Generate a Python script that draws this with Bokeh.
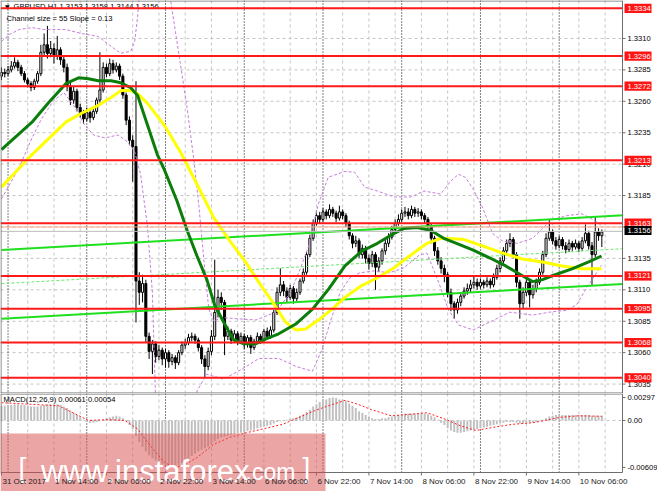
from bokeh.plotting import figure
from bokeh.layouts import column
from bokeh.models import Range1d, ColumnDataSource
from bokeh.core.properties import value
from bokeh.embed import file_html
from bokeh.resources import INLINE

# ---------------- data ----------------
symbol = "GBPUSD,H1"
first_open = 1.3280
closes = [
    1.3283, 1.3282, 1.3285, 1.3288, 1.3291, 1.3287, 1.3282, 1.3277, 1.3274, 1.3271,
    1.3276, 1.3282, 1.3299, 1.3305, 1.3298, 1.3302, 1.3296, 1.3301, 1.3293, 1.3287,
    1.3272, 1.3261, 1.3268, 1.3255, 1.3251, 1.3246, 1.3251, 1.3247, 1.3252, 1.3261,
    1.3269, 1.3287, 1.3282, 1.3290, 1.3285, 1.3288, 1.3280, 1.3265, 1.3245, 1.3229,
    1.3224, 1.3117, 1.3108, 1.3115, 1.3073, 1.3061, 1.3067, 1.3057, 1.3062, 1.3055,
    1.3060, 1.3053, 1.3056, 1.3052, 1.3060, 1.3066, 1.3068, 1.3072, 1.3073, 1.3070,
    1.3064, 1.3055, 1.3049, 1.3061, 1.3073, 1.3092, 1.3104, 1.3100, 1.3073, 1.3077,
    1.3070, 1.3075, 1.3069, 1.3073, 1.3067, 1.3072, 1.3064, 1.3069, 1.3073, 1.3070,
    1.3077, 1.3073, 1.3078, 1.3092, 1.3108, 1.3114, 1.3109, 1.3104, 1.3111, 1.3103,
    1.3108, 1.3117, 1.3124, 1.3138, 1.3151, 1.3163, 1.3169, 1.3166, 1.3172, 1.3169,
    1.3174, 1.3171, 1.3167, 1.3172, 1.3169, 1.3163, 1.3153, 1.3147, 1.3149, 1.3138,
    1.3143, 1.3135, 1.3131, 1.3138, 1.3128, 1.3133, 1.3141, 1.3147, 1.3152, 1.3158,
    1.3163, 1.3166, 1.3171, 1.3172, 1.3169, 1.3174, 1.3171, 1.3172, 1.3169, 1.3166,
    1.3161, 1.3151, 1.3141, 1.3133, 1.3127, 1.3122, 1.3108, 1.3099, 1.3094, 1.3100,
    1.3105, 1.3109, 1.3111, 1.3114, 1.3116, 1.3113, 1.3116, 1.3114, 1.3117, 1.3114,
    1.3120, 1.3127, 1.3133, 1.3141, 1.3147, 1.3150, 1.3138, 1.3116, 1.3099, 1.3108,
    1.3116, 1.3106, 1.3111, 1.3116, 1.3124, 1.3138, 1.3151, 1.3156, 1.3149, 1.3145,
    1.3150, 1.3145, 1.3142, 1.3147, 1.3144, 1.3147, 1.3143, 1.3149, 1.3155, 1.3145,
    1.3138, 1.3156, 1.3153, 1.3156,
]
highs = [
    1.3287, 1.3286, 1.3288, 1.3292, 1.3295, 1.3293, 1.3289, 1.3284, 1.3279, 1.3276,
    1.3278, 1.3284, 1.3305, 1.3314, 1.3320, 1.3308, 1.3306, 1.3312, 1.3303, 1.3296,
    1.3290, 1.3275, 1.3272, 1.3270, 1.3258, 1.3253, 1.3255, 1.3254, 1.3255, 1.3263,
    1.3299, 1.3291, 1.3290, 1.3294, 1.3293, 1.3291, 1.3290, 1.3282, 1.3267, 1.3248,
    1.3233, 1.3276, 1.3124, 1.3122, 1.3118, 1.3076, 1.3070, 1.3069, 1.3066, 1.3064,
    1.3063, 1.3062, 1.3059, 1.3058, 1.3062, 1.3069, 1.3071, 1.3075, 1.3076, 1.3075,
    1.3072, 1.3066, 1.3058, 1.3064, 1.3078, 1.3134, 1.3110, 1.3108, 1.3102, 1.3081,
    1.3079, 1.3078, 1.3077, 1.3076, 1.3075, 1.3074, 1.3074, 1.3071, 1.3076, 1.3075,
    1.3079, 1.3080, 1.3081, 1.3094, 1.3112, 1.3127, 1.3117, 1.3112, 1.3114, 1.3113,
    1.3111, 1.3119, 1.3127, 1.3140, 1.3154, 1.3166, 1.3173, 1.3172, 1.3175, 1.3174,
    1.3178, 1.3176, 1.3173, 1.3177, 1.3174, 1.3171, 1.3165, 1.3155, 1.3153, 1.3151,
    1.3146, 1.3145, 1.3138, 1.3141, 1.3140, 1.3136, 1.3143, 1.3150, 1.3155, 1.3161,
    1.3166, 1.3170, 1.3174, 1.3176, 1.3175, 1.3177, 1.3176, 1.3175, 1.3174, 1.3171,
    1.3168, 1.3163, 1.3153, 1.3144, 1.3136, 1.3130, 1.3124, 1.3111, 1.3101, 1.3103,
    1.3108, 1.3112, 1.3115, 1.3118, 1.3121, 1.3119, 1.3119, 1.3118, 1.3120, 1.3119,
    1.3123, 1.3130, 1.3136, 1.3144, 1.3150, 1.3155, 1.3152, 1.3140, 1.3118, 1.3112,
    1.3120, 1.3118, 1.3114, 1.3119, 1.3127, 1.3141, 1.3155, 1.3166, 1.3158, 1.3152,
    1.3153, 1.3152, 1.3148, 1.3150, 1.3149, 1.3150, 1.3149, 1.3152, 1.3162, 1.3157,
    1.3148, 1.3168, 1.3159, 1.3158,
]
lows = [
    1.3277, 1.3279, 1.3280, 1.3283, 1.3286, 1.3284, 1.3280, 1.3275, 1.3271, 1.3268,
    1.3269, 1.3274, 1.3280, 1.3296, 1.3294, 1.3295, 1.3290, 1.3293, 1.3289, 1.3283,
    1.3268, 1.3257, 1.3258, 1.3252, 1.3247, 1.3242, 1.3244, 1.3243, 1.3245, 1.3250,
    1.3259, 1.3267, 1.3279, 1.3280, 1.3282, 1.3283, 1.3277, 1.3262, 1.3241, 1.3225,
    1.3196, 1.3084, 1.3098, 1.3100, 1.3068, 1.3055, 1.3043, 1.3052, 1.3054, 1.3050,
    1.3048, 1.3048, 1.3050, 1.3047, 1.3050, 1.3058, 1.3063, 1.3066, 1.3069, 1.3067,
    1.3061, 1.3051, 1.3040, 1.3046, 1.3058, 1.3070, 1.3088, 1.3094, 1.3058, 1.3070,
    1.3067, 1.3068, 1.3066, 1.3067, 1.3063, 1.3064, 1.3059, 1.3062, 1.3067, 1.3067,
    1.3068, 1.3071, 1.3071, 1.3076, 1.3090, 1.3105, 1.3105, 1.3100, 1.3102, 1.3099,
    1.3101, 1.3106, 1.3115, 1.3122, 1.3136, 1.3149, 1.3161, 1.3163, 1.3164, 1.3166,
    1.3167, 1.3168, 1.3164, 1.3165, 1.3166, 1.3160, 1.3150, 1.3143, 1.3144, 1.3135,
    1.3135, 1.3131, 1.3126, 1.3128, 1.3110, 1.3124, 1.3130, 1.3138, 1.3144, 1.3150,
    1.3156, 1.3161, 1.3164, 1.3168, 1.3166, 1.3167, 1.3168, 1.3168, 1.3166, 1.3163,
    1.3157, 1.3147, 1.3137, 1.3130, 1.3123, 1.3116, 1.3104, 1.3093, 1.3087, 1.3091,
    1.3097, 1.3103, 1.3106, 1.3108, 1.3111, 1.3110, 1.3111, 1.3111, 1.3112, 1.3111,
    1.3112, 1.3118, 1.3124, 1.3131, 1.3139, 1.3144, 1.3135, 1.3112, 1.3087, 1.3095,
    1.3105, 1.3096, 1.3103, 1.3108, 1.3114, 1.3122, 1.3136, 1.3149, 1.3146, 1.3142,
    1.3143, 1.3142, 1.3139, 1.3140, 1.3141, 1.3142, 1.3140, 1.3141, 1.3147, 1.3142,
    1.3113, 1.3136, 1.3149, 1.3144,
]

# moving averages (bar position, price)
green_x = [0, 9.3, 14.4, 19.6, 23.5, 26.5, 29.5, 33.4, 36.4, 39.4,
           41.5, 44.5, 47.5, 49.6, 53.5, 56.6, 59.6, 62.6, 65.0, 67.7,
           70.7, 73.7, 77.6, 80.6, 84.5, 89.7, 94.8, 99.6, 104.7, 109.8,
           114.6, 119.7, 122.7, 126.7, 130.9, 134.8, 138.7, 143.8, 148.9, 153.7,
           158.8, 161.9, 164.9, 167.9, 173.9, 179.0, 182.9]
green_v = [1.32215, 1.32434, 1.32591, 1.32740, 1.32787, 1.32779, 1.32763, 1.32763, 1.32747, 1.32708,
           1.32646, 1.32411, 1.32176, 1.32058, 1.31807, 1.31572, 1.31369, 1.31181, 1.30977, 1.30844,
           1.30703, 1.30671, 1.30671, 1.30710, 1.30750, 1.30828, 1.30946, 1.31102, 1.31290, 1.31408,
           1.31470, 1.31549, 1.31588, 1.31596, 1.31572, 1.31510, 1.31470, 1.31416, 1.31353, 1.31290,
           1.31212, 1.31165, 1.31181, 1.31212, 1.31267, 1.31322, 1.31369]
yellow_x = [0, 9.3, 19.6, 24.4, 29.5, 33.4, 36.4, 39.4, 41.5, 44.5,
            49.6, 54.5, 59.6, 64.7, 69.5, 74.6, 78.5, 82.7, 86.6, 89.7,
            92.7, 96.6, 100.8, 104.7, 109.8, 114.6, 119.7, 122.7, 129.7, 133.9,
            140.8, 146.8, 152.8, 158.8, 164.9, 170.9, 176.9, 182.9]
yellow_v = [1.31917, 1.32176, 1.32434, 1.32505, 1.32567, 1.32630, 1.32685, 1.32685, 1.32661, 1.32583,
            1.32411, 1.32199, 1.31940, 1.31674, 1.31494, 1.31314, 1.31157, 1.31000, 1.30844, 1.30781,
            1.30789, 1.30859, 1.30946, 1.31040, 1.31134, 1.31196, 1.31275, 1.31337, 1.31470, 1.31510,
            1.31502, 1.31447, 1.31392, 1.31345, 1.31322, 1.31290, 1.31267, 1.31267]
# band lines (dashed violet)
upper_x = [0, 2.4, 5.4, 9.3, 12.9, 19.6, 24.4, 29.5, 33.4, 36.4,
           39.4, 40.6, 41.5, 42.4, 43.6, 50.5, 51.4, 54.5, 56.6, 58.7,
           60.2, 61.7, 63.2, 64.7, 67.1, 71.6, 77.6, 83.6, 88.1, 91.2,
           93.6, 96.6, 99.6, 104.7, 107.7, 110.7, 114.6, 119.7, 124.8, 128.8,
           133.9, 136.9, 139.3, 141.4, 143.8, 146.8, 149.7, 152.8, 157.3, 161.9,
           164.9, 167.9, 172.4, 176.9, 181.4, 182.9]
upper_v = [1.33076, 1.33131, 1.33171, 1.33186, 1.33171, 1.33171, 1.33139, 1.33116, 1.33037, 1.32982,
           1.32998, 1.33076, 1.33272, 1.33586, 1.34056, 1.34056, 1.33429, 1.32904, 1.32544, 1.32121,
           1.31760, 1.31337, 1.30945, 1.30850, 1.30880, 1.30870, 1.30860, 1.30922, 1.31079, 1.31275,
           1.31447, 1.31784, 1.31995, 1.32042, 1.32035, 1.31917, 1.31886, 1.31839, 1.31839, 1.31886,
           1.31862, 1.31964, 1.32019, 1.31995, 1.31901, 1.31745, 1.31549, 1.31486, 1.31470, 1.31510,
           1.31588, 1.31658, 1.31690, 1.31705, 1.31643, 1.31611]
lower_x = [0, 5.4, 9.3, 12.3, 15.9, 19.0, 22.0, 25.0, 28.0, 31.6,
           35.5, 38.5, 40.6, 42.4, 44.5, 46.0, 46.9, 48.1, 58.1, 59.6,
           62.6, 67.7, 73.7, 78.5, 84.5, 89.7, 94.8, 97.8, 100.2, 103.2,
           106.2, 109.2, 113.7, 118.2, 122.7, 127.3, 129.7, 133.3, 136.3, 139.3,
           143.8, 148.9, 154.9, 161.9, 167.0, 172.4, 175.4, 178.4, 180.8, 182.9]
lower_v = [1.31823, 1.32074, 1.32309, 1.32465, 1.32606, 1.32669, 1.32567, 1.32426, 1.32332, 1.32309,
           1.32332, 1.32277, 1.32199, 1.32019, 1.31604, 1.31079, 1.30295, 1.29669, 1.29669, 1.30295,
           1.30428, 1.30389, 1.30475, 1.30554, 1.30554, 1.30491, 1.30452, 1.30632, 1.30844, 1.31079,
           1.31196, 1.31235, 1.31251, 1.31235, 1.31275, 1.31376, 1.31392, 1.31157, 1.30938, 1.30820,
           1.30781, 1.30844, 1.30922, 1.30899, 1.30922, 1.30938, 1.30985, 1.31118, 1.31212, 1.31298]
# regression channel (end points)
channel_x = [0, 189.5]
channel_upper = [1.31416, 1.31693]
channel_mid = [1.31149, 1.31427]
channel_lower = [1.30870, 1.31147]
channel_text = "Channel size = 55 Slope = 0.13"

levels = [1.3334, 1.3296, 1.3272, 1.3213, 1.3163, 1.3121, 1.3095, 1.3068, 1.3040]
price_ticks = [1.3035, 1.3060, 1.3085, 1.3110, 1.3135, 1.3160,
               1.3185, 1.3210, 1.3235, 1.3260, 1.3285, 1.3310]
bid = 1.3156
ask = 1.3160

macd_hist = [
    0.0019, 0.0019, 0.0020, 0.0020, 0.0021, 0.0021, 0.0020, 0.0020, 0.0019, 0.0018,
    0.0018, 0.0018, 0.0019, 0.0020, 0.0021, 0.0021, 0.0021, 0.0021,
    0.0020, 0.0018, 0.0016, 0.0013, 0.0010, 0.0007, 0.0004,
    0.0001, -0.0002, -0.0003, -0.0003, -0.0002, -0.0001, 0.0001,
    0.0003, 0.0004, 0.0005, 0.0006, 0.0005, 0.0003,
    -0.0001, -0.0006, -0.0011,
    -0.0020,
    -0.0028, -0.0034, -0.0040, -0.0045, -0.0049, -0.0052, -0.0055, -0.0057, -0.0059, -0.0060, -0.00609,
    -0.0060, -0.0058, -0.0055, -0.0052, -0.0049, -0.0046, -0.0043, -0.0040, -0.0038, -0.0036, -0.0034, -0.0031, -0.0027,
    -0.0024, -0.0022, -0.0021, -0.0020, -0.0019, -0.0018, -0.0017, -0.0016, -0.0015, -0.0014, -0.0013, -0.0012, -0.0010, -0.0009,
    -0.0008, -0.0007, -0.0006, -0.0004, -0.0002, -0.0001, 0.0000,
    0.0001, 0.0002, 0.0003, 0.0004, 0.0006, 0.0008, 0.0011, 0.0014, 0.0018, 0.0021, 0.0024, 0.0026,
    0.0027, 0.0029, 0.00297, 0.0029, 0.0027, 0.0027, 0.0025,
    0.0022, 0.0019, 0.0016, 0.0012, 0.0010, 0.0007, 0.0005, 0.0003,
    0.0002, 0.0002, 0.0003, 0.0003, 0.0004, 0.0005, 0.0006, 0.0007,
    0.0008, 0.0009, 0.0009, 0.0009, 0.0009, 0.0009, 0.0009, 0.0009, 0.0008, 0.0006,
    0.0004, 0.0001, -0.0003, -0.0006, -0.0010, -0.0013,
    -0.0015, -0.0016, -0.0016, -0.0015, -0.0014, -0.0013, -0.0012, -0.0011,
    -0.0010, -0.0009, -0.0008, -0.0007, -0.0006, -0.0005, -0.0004, -0.0003,
    -0.0002, -0.0002, -0.0002, -0.0003, -0.0004, -0.0004, -0.0003, -0.0003, -0.0003, -0.0002, -0.0001,
    0.0001, 0.0003, 0.0005, 0.0006, 0.0007, 0.0007, 0.0007, 0.0007, 0.0007, 0.0007,
    0.0007, 0.0007, 0.0007, 0.0007, 0.0007, 0.0006, 0.0006, 0.0006, 0.00061,
]
signal_x = [0, 17.4, 26.5, 32.5, 37.6, 41.5, 45.4, 49.6, 52.6, 55.7,
            59.6, 64.7, 69.5, 74.6, 79.7, 85.7, 91.8, 95.7, 99.6, 104.7,
            108.6, 112.8, 118.8, 124.8, 129.7, 135.7, 139.9, 144.7, 149.8, 155.8,
            161.9, 165.8, 170.0, 176.0, 183]
signal_v = [0.0023, 0.0019, 0.0000, 0.0001, 0.0000, -0.0011, -0.0033, -0.0054, -0.0061, -0.0058,
            -0.0048, -0.0031, -0.0022, -0.0016, -0.0011, -0.0005, 0.0006, 0.0013, 0.0019, 0.0026,
            0.0021, 0.0014, 0.0006, 0.0008, 0.0010, 0.0001, -0.0007, -0.0013, -0.0009, -0.0005,
            -0.0003, 0.0000, 0.0004, 0.0006, 0.00054]
macd_ticks = [0.00297, 0.0, -0.00609]
macd_tick_labels = ["0.00297", "0.00", "-0.00609"]

time_ticks = [0, 16, 32, 48, 64, 80, 96, 112, 128, 144, 160, 176]
time_labels = ["31 Oct 2017", "1 Nov 14:00", "2 Nov 06:00", "2 Nov 22:00", "3 Nov 14:00",
               "6 Nov 06:00", "6 Nov 22:00", "7 Nov 14:00", "8 Nov 06:00", "8 Nov 22:00",
               "9 Nov 14:00", "10 Nov 06:00"]
day_starts = [2, 26, 50, 74, 98, 122, 146, 170]

# ---------------- layout constants (pixels) ----------------
W = 657
PW = 622
H1 = 393
H2 = 98
MAIN_H = 392
MP = 79
XL, XR = -0.3, 189.3
BPX = (XR - XL) / PW
XEND = XL + W * BPX
P_TOP, P_BOT = 1.33402, 1.30283
YPX = (P_TOP - P_BOT) / MAIN_H
M_TOP, M_BOT = 0.00349, -0.00674
MYPX = (M_TOP - M_BOT) / MP

FONT = value("Liberation Sans")


def px_x(px):
    return XL + px * BPX


def main_y(py):
    return P_TOP - py * YPX


def macd_y(py):
    return M_TOP - py * MYPX


def make_fig(h, y0, y1, x_range):
    f = figure(width=W, height=h, x_range=x_range, y_range=Range1d(y0, y1),
               output_backend="svg", toolbar_location=None,
               x_axis_location=None, y_axis_location=None,
               min_border=0, outline_line_color=None,
               background_fill_color="white", border_fill_color="white")
    f.grid.visible = False
    return f


xr = Range1d(XL, XEND)
p1 = make_fig(H1, P_TOP - H1 * YPX, P_TOP, xr)
p2 = make_fig(H2, M_TOP - H2 * MYPX, M_TOP, xr)

GRID = "#c4c4c4"
BORDER = "#6e6e6e"
grid_x = list(range(8, 190, 8))

# ---------------- main panel ----------------
p1.segment(x0=grid_x, y0=[main_y(0)] * len(grid_x), x1=grid_x, y1=[main_y(MAIN_H)] * len(grid_x),
           line_color=GRID, line_dash="3 3", line_width=1)
p1.segment(x0=[XL] * len(price_ticks), y0=price_ticks, x1=[XR] * len(price_ticks), y1=price_ticks,
           line_color=GRID, line_dash="3 3", line_width=1)
p1.segment(x0=day_starts, y0=[main_y(0)] * len(day_starts), x1=day_starts,
           y1=[main_y(MAIN_H)] * len(day_starts), line_color="black", line_dash="1 2", line_width=1)

# header texts (drawn before the level lines, as in the reference)
last = len(closes) - 1
opens = [first_open] + closes[:-1]
title = "%s  %.4f %.4f %.4f %.4f" % (symbol, opens[last], highs[last], lows[last], closes[last])
p1.text(x=[px_x(4.5)], y=[main_y(6.2)], text=["\u25bc"], text_font=value("DejaVu Sans"),
        text_font_size=value("6px"), text_color="black", text_baseline="middle", text_align="left")
p1.text(x=[px_x(13)], y=[main_y(6.2)], text=[title], text_font=FONT,
        text_font_size=value("7.6px"), text_color="black", text_baseline="middle", text_align="left")
p1.text(x=[px_x(6)], y=[main_y(17.8)], text=[channel_text], text_font=FONT,
        text_font_size=value("7.6px"), text_color="black", text_baseline="middle", text_align="left")

# candles
idx = list(range(len(closes)))
tops = [max(o, c) for o, c in zip(opens, closes)]
bots = [min(o, c) for o, c in zip(opens, closes)]
fills = ["white" if c >= o else "black" for o, c in zip(opens, closes)]
src = ColumnDataSource(dict(x=idx, h=highs, l=lows, top=tops, bot=bots, fill=fills))
p1.segment(x0="x", y0="l", x1="x", y1="h", source=src, line_color="black", line_width=1)
p1.vbar(x="x", width=0.62, top="top", bottom="bot", source=src,
        fill_color="fill", line_color="black", line_width=1)

# bands, channel, moving averages
p1.line(upper_x, upper_v, line_color="#c77ddb", line_dash="3 2", line_width=1)
p1.line(lower_x, lower_v, line_color="#c77ddb", line_dash="3 2", line_width=1)
p1.line(channel_x, channel_upper, line_color="#1fe01f", line_width=2)
p1.line(channel_x, channel_lower, line_color="#1fe01f", line_width=2)
p1.line(channel_x, channel_mid, line_color="#6de86d", line_dash="3 2", line_width=1)
p1.line(yellow_x, yellow_v, line_color="#ffff00", line_width=3)
p1.line(green_x, green_v, line_color="#0b7d0b", line_width=3)

# horizontal levels, ask / bid lines
p1.segment(x0=[XL] * len(levels), y0=levels, x1=[XR] * len(levels), y1=levels,
           line_color="#ff1a1a", line_width=2)
p1.segment(x0=[XL], y0=[ask], x1=[XR], y1=[ask], line_color="#f5a888", line_width=1)
p1.segment(x0=[XL], y0=[bid + 0.00005], x1=[XR], y1=[bid + 0.00005], line_color="#bdbdbd", line_width=1)

# panel border
p1.segment(x0=[XL, XL, px_x(0.5), XR], y0=[main_y(0.5), main_y(MAIN_H + 0.5), main_y(0), main_y(0)],
           x1=[XR, XR, px_x(0.5), XR], y1=[main_y(0.5), main_y(MAIN_H + 0.5), main_y(MAIN_H + 1), main_y(MAIN_H + 1)],
           line_color=BORDER, line_width=1)

# price scale
p1.segment(x0=[XR] * len(price_ticks), y0=price_ticks, x1=[px_x(625)] * len(price_ticks), y1=price_ticks,
           line_color=BORDER, line_width=1)
p1.text(x=[px_x(627)] * len(price_ticks), y=price_ticks, text=["%.4f" % t for t in price_ticks],
        text_font=FONT, text_font_size=value("7.6px"), text_color="black",
        text_baseline="middle", text_align="left")
box_h = 4.6 * YPX
p1.quad(left=[px_x(624)] * len(levels), right=[px_x(651)] * len(levels),
        top=[v + box_h for v in levels], bottom=[v - box_h for v in levels],
        fill_color="#ff1414", line_color=None)
p1.text(x=[px_x(627)] * len(levels), y=levels, text=["%.4f" % v for v in levels],
        text_font=FONT, text_font_size=value("7.6px"), text_color="white",
        text_baseline="middle", text_align="left")
p1.quad(left=[px_x(624)], right=[px_x(651)], top=[bid + 0.00012 + box_h], bottom=[bid + 0.00012 - box_h],
        fill_color="black", line_color=None)
p1.text(x=[px_x(627)], y=[bid + 0.00012], text=["%.4f" % bid], text_font=FONT,
        text_font_size=value("7.6px"), text_color="white", text_baseline="middle", text_align="left")

# ---------------- MACD panel ----------------
p2.segment(x0=grid_x, y0=[macd_y(0)] * len(grid_x), x1=grid_x, y1=[macd_y(MP)] * len(grid_x),
           line_color=GRID, line_dash="3 3", line_width=1)
p2.segment(x0=day_starts, y0=[macd_y(0)] * len(day_starts), x1=day_starts,
           y1=[macd_y(MP)] * len(day_starts), line_color="black", line_dash="1 2", line_width=1)
p2.segment(x0=[XL], y0=[0.0], x1=[XR], y1=[0.0], line_color=GRID, line_dash="3 3", line_width=1)
p2.vbar(x=list(range(len(macd_hist))), width=0.6, top=macd_hist, bottom=0.0,
        fill_color="#c0c0c0", line_color=None)
p2.line(signal_x, signal_v, line_color="#ff2020", line_dash="2 2", line_width=1)

p2.segment(x0=[XL, XL, px_x(0.5), XR], y0=[macd_y(0.5), macd_y(MP), macd_y(0), macd_y(0)],
           x1=[XR, XR, px_x(0.5), XR], y1=[macd_y(0.5), macd_y(MP), macd_y(MP), macd_y(MP)],
           line_color=BORDER, line_width=1)
p2.segment(x0=[XR] * len(macd_ticks), y0=macd_ticks, x1=[px_x(625)] * len(macd_ticks), y1=macd_ticks,
           line_color=BORDER, line_width=1)
p2.text(x=[px_x(627)] * len(macd_ticks), y=macd_ticks, text=macd_tick_labels,
        text_font=FONT, text_font_size=value("7.6px"), text_color="black",
        text_baseline="middle", text_align="left")
macd_title = "MACD(12,26,9) %.5f %.5f" % (macd_hist[-1], signal_v[-1])
p2.text(x=[px_x(3)], y=[macd_y(6)], text=[macd_title], text_font=FONT,
        text_font_size=value("7.6px"), text_color="black", text_baseline="middle", text_align="left")

# time scale ticks
p2.segment(x0=time_ticks, y0=[macd_y(MP)] * len(time_ticks), x1=time_ticks,
           y1=[macd_y(MP + 3)] * len(time_ticks), line_color=BORDER, line_width=1)

# watermark
p2.quad(left=[XL], right=[px_x(325)], top=[macd_y(40)], bottom=[macd_y(H2)],
        fill_color="#d94c4c", fill_alpha=0.5, line_color=None)
p2.text(x=[px_x(18)], y=[macd_y(74)], text=["["], text_font=FONT, text_font_size=value("28px"),
        text_color="white", text_baseline="alphabetic", text_align="left")
p2.text(x=[px_x(40.5)], y=[macd_y(78)], text=["www.instaforex"], text_font=FONT,
        text_font_size=value("31px"), text_color="white", text_baseline="alphabetic", text_align="left")
p2.text(x=[px_x(245)], y=[macd_y(78)], text=[".com"], text_font=FONT,
        text_font_size=value("23px"), text_color="white", text_baseline="alphabetic", text_align="left")
p2.text(x=[px_x(302)], y=[macd_y(74)], text=["]"], text_font=FONT, text_font_size=value("28px"),
        text_color="white", text_baseline="alphabetic", text_align="left")

# time labels (above the watermark tint, as in the reference)
p2.text(x=time_ticks, y=[macd_y(88)] * len(time_ticks), text=time_labels, x_offset=1,
        text_font=FONT, text_font_size=value("8px"), text_color="#222222",
        text_baseline="middle", text_align="left")

layout = column(p1, p2, spacing=0)
open("out.html", "w").write(file_html(layout, INLINE))
